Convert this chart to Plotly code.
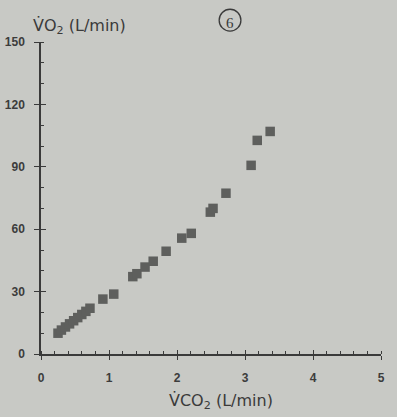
import plotly.graph_objects as go

vco2 = [0.25, 0.30, 0.36, 0.42, 0.48, 0.54, 0.60, 0.66, 0.72, 0.91, 1.07,
        1.35, 1.41, 1.53, 1.65, 1.84, 2.07, 2.21, 2.49, 2.53, 2.72,
        3.09, 3.18, 3.37]
vo2 = [10.0, 11.5, 13.0, 14.5, 16.0, 17.5, 19.0, 20.5, 22.0, 26.4, 28.8,
       37.2, 38.6, 41.8, 44.6, 49.4, 55.7, 58.0, 68.2, 70.0, 77.3,
       90.7, 102.7, 107.0]

xticks = [0, 1, 2, 3, 4, 5]
yticks = [0, 30, 60, 90, 120, 150]

bg = "#c8c9c5"
ink = "#3a3a3a"
font = "Liberation Sans, Arial, sans-serif"
tfont = "DejaVu Sans, Verdana, sans-serif"

fig = go.Figure()
fig.add_trace(go.Scatter(x=vco2, y=vo2, mode="markers",
                         marker=dict(symbol="square", size=9.5, color="#5e5f5d",
                                     line=dict(width=0)),
                         showlegend=False, hoverinfo="skip"))
# invisible trace to activate overlay axes (for crossing ticks)
fig.add_trace(go.Scatter(x=[None], y=[None], xaxis="x2", yaxis="y2",
                         showlegend=False, hoverinfo="skip"))

fig.update_layout(
    width=397, height=417,
    margin=dict(l=41, r=16, t=42, b=63),
    paper_bgcolor=bg, plot_bgcolor=bg,
    font=dict(family=font, color=ink),
    xaxis=dict(range=[0, 5], tickvals=xticks, ticks="outside", ticklen=4,
               tickwidth=1.2, tickcolor=ink, automargin=False,
               minor=dict(dtick=0.2, ticks="inside", ticklen=3, tickcolor=ink),
               showline=True, linecolor=ink, linewidth=1.5, showgrid=False,
               zeroline=False, ticklabelstandoff=8,
               tickfont=dict(size=12, color="#3c3c3c", weight="bold")),
    yaxis=dict(range=[0, 150], tickvals=yticks, ticks="outside", ticklen=5,
               tickwidth=1.2, tickcolor=ink, automargin=False,
               minor=dict(dtick=10, ticks="inside", ticklen=3, tickcolor=ink),
               showline=True, linecolor=ink, linewidth=1.5, showgrid=False,
               zeroline=False, ticklabelstandoff=7,
               tickfont=dict(size=12, color="#3c3c3c", weight="bold")),
    xaxis2=dict(range=[0, 5], overlaying="x", anchor="y2", tickvals=xticks,
                ticks="inside", ticklen=4, tickwidth=1.2, tickcolor=ink,
                showticklabels=False, showgrid=False, zeroline=False,
                showline=False, side="bottom", automargin=False),
    yaxis2=dict(range=[0, 150], overlaying="y", anchor="x2", tickvals=yticks,
                ticks="inside", ticklen=5, tickwidth=1.2, tickcolor=ink,
                showticklabels=False, showgrid=False, zeroline=False,
                showline=False, side="left", automargin=False),
    annotations=[
        dict(text="V\u0307O<sub>2</sub> (L/min)", xref="paper", yref="paper",
             x=-0.03, y=1.0, yshift=3, xanchor="left", yanchor="bottom",
             showarrow=False, font=dict(size=16, color=ink, family=tfont)),
        dict(text="V\u0307CO<sub>2</sub> (L/min)", xref="paper", yref="paper",
             x=0.53, y=0.0, yshift=-35, xanchor="center", yanchor="top",
             showarrow=False, font=dict(size=16, color=ink, family=tfont)),
        dict(text="6", xref="paper", yref="paper", x=0.556, y=1.0, yshift=9,
             xanchor="center", yanchor="bottom", showarrow=False,
             font=dict(size=15, color=ink, family="Liberation Serif, serif")),
    ],
    shapes=[
        dict(type="circle", xref="paper", yref="paper",
             x0=0.524, x1=0.588, y0=1.035, y1=1.105,
             line=dict(color=ink, width=1.3)),
    ],
)

fig.write_html("out.html")
